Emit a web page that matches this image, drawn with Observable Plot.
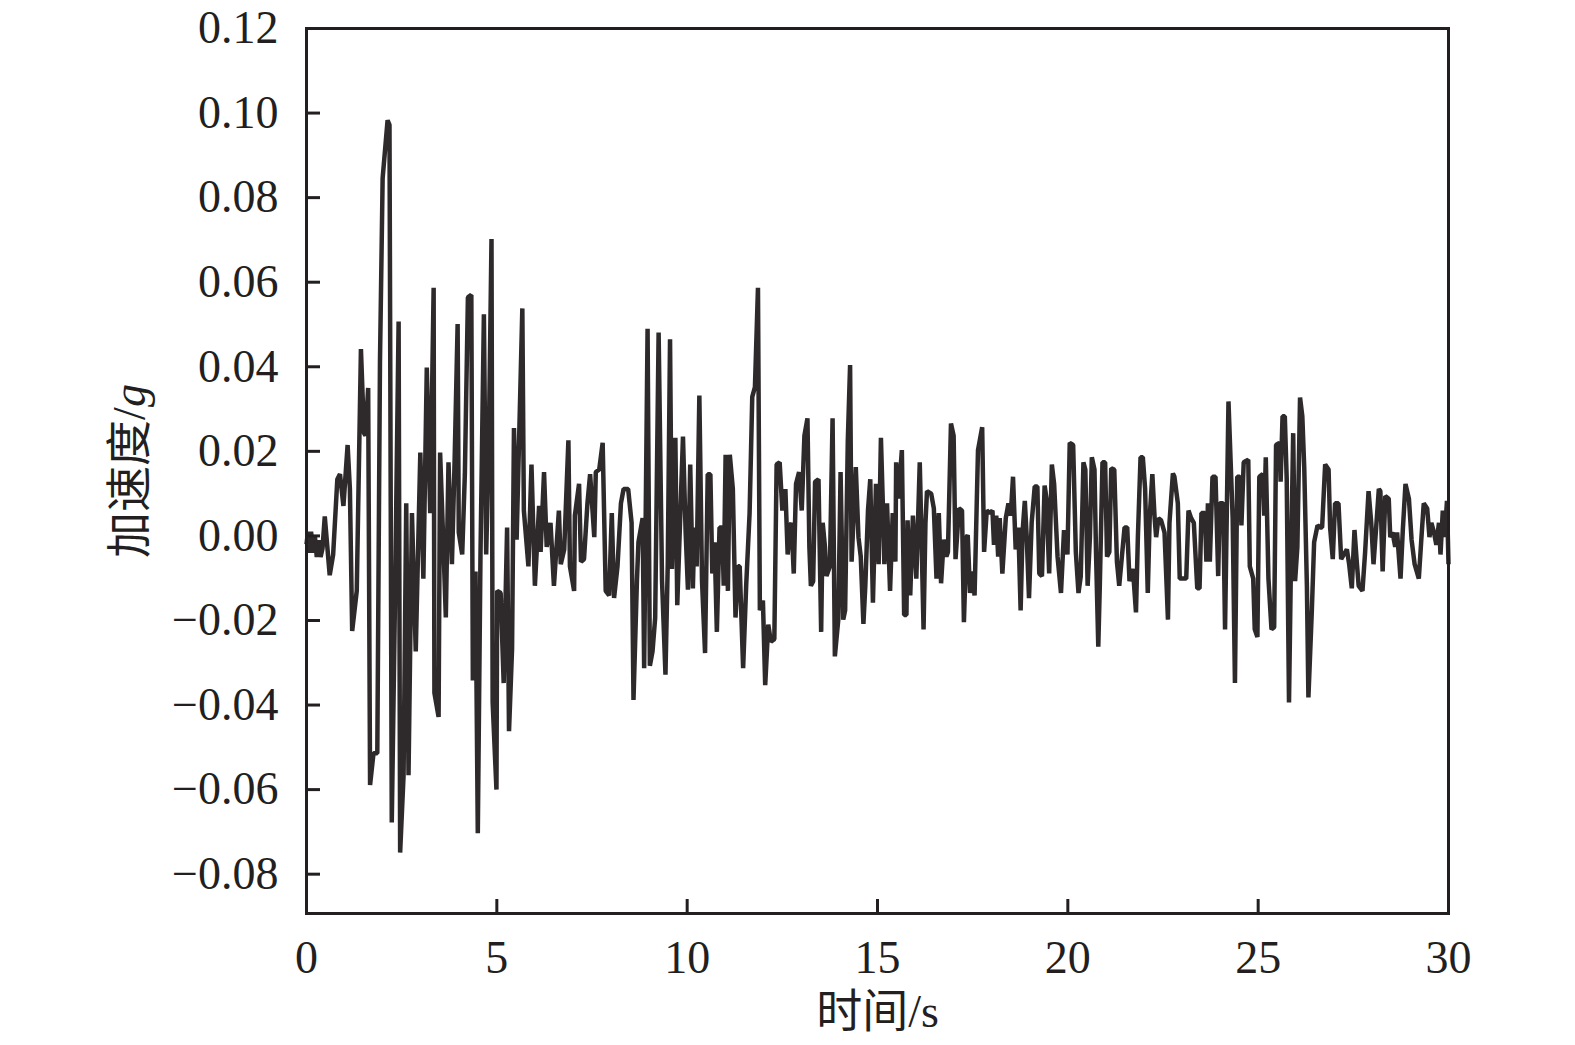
<!DOCTYPE html>
<html><head><meta charset="utf-8">
<script src="https://cdn.jsdelivr.net/npm/d3@7"></script>
<script src="https://cdn.jsdelivr.net/npm/@observablehq/plot@0.6"></script>
<style>
html,body{margin:0;padding:0;background:#fff;}
#chart svg{display:block;}
</style></head><body><div id="chart"></div>
<script>
// Time (s)
const time = [
  0, 0.04, 0.08, 0.12, 0.17, 0.22, 0.27, 0.32, 0.37, 0.42,
  0.48, 0.61, 0.70, 0.81, 0.88, 0.97, 1.08, 1.14, 1.20, 1.32,
  1.43, 1.51, 1.55, 1.62, 1.67, 1.76, 1.86, 1.93, 2.00, 2.13,
  2.18, 2.24, 2.33, 2.42, 2.46, 2.55, 2.62, 2.68, 2.77, 2.87, 2.99,
  3.07, 3.16, 3.25, 3.34, 3.36, 3.47, 3.51, 3.60, 3.66, 3.73,
  3.82, 3.89, 3.97, 4.00, 4.09, 4.16, 4.24, 4.33, 4.37, 4.44,
  4.50, 4.57, 4.66, 4.72, 4.79, 4.86, 4.89, 4.99, 5.01, 5.10,
  5.18, 5.27, 5.32, 5.40, 5.45, 5.52, 5.67, 5.71, 5.83, 5.91, 6.00,
  6.11, 6.15, 6.24, 6.31, 6.41, 6.50, 6.63, 6.68, 6.77, 6.88,
  6.92, 7.03, 7.05, 7.16, 7.21, 7.29, 7.38, 7.45, 7.56, 7.60,
  7.69, 7.78, 7.86, 7.95, 8.02, 8.08, 8.17, 8.26, 8.33, 8.45,
  8.54, 8.59, 8.68, 8.72, 8.83, 8.87, 8.96,
  9.02, 9.09, 9.16, 9.25, 9.34, 9.43, 9.49, 9.55, 9.60, 9.69,
  9.74, 9.80, 9.89, 9.96, 10.02, 10.08, 10.15, 10.19, 10.25, 10.32,
  10.39, 10.47, 10.54, 10.61, 10.66, 10.72, 10.78, 10.85, 10.92, 10.96,
  11.01, 11.07, 11.12, 11.20, 11.27, 11.34, 11.38, 11.47, 11.55, 11.64,
  11.71, 11.78, 11.86, 11.91, 11.99, 12.05,
  12.13, 12.20, 12.29, 12.35, 12.43, 12.50, 12.58, 12.64, 12.70, 12.74,
  12.80, 12.86, 12.94, 13.01, 13.08, 13.16, 13.21, 13.25, 13.31, 13.36,
  13.45, 13.52, 13.56, 13.62, 13.66, 13.75, 13.82, 13.88, 13.97, 14.03,
  14.10, 14.15, 14.22, 14.28, 14.32, 14.43, 14.50, 14.56, 14.63, 14.68,
  14.75, 14.81, 14.88, 14.96, 15.03, 15.09,
  15.14, 15.18, 15.25, 15.33, 15.40, 15.47, 15.49, 15.55, 15.64, 15.70,
  15.76, 15.79, 15.86, 15.93, 16.02, 16.11, 16.15, 16.21, 16.26, 16.30,
  16.41, 16.48, 16.55, 16.61, 16.67, 16.74, 16.81, 16.85, 16.93, 17.00,
  17.05, 17.14, 17.22, 17.27, 17.34, 17.37, 17.43, 17.49, 17.55, 17.64,
  17.75, 17.80, 17.87, 17.95,
  18.02, 18.06, 18.12, 18.17, 18.21, 18.28, 18.37, 18.44, 18.50, 18.56,
  18.63, 18.70, 18.76, 18.81, 18.87, 18.92, 18.98, 19.05, 19.13, 19.20,
  19.25, 19.32, 19.39, 19.44, 19.51, 19.58, 19.64, 19.73, 19.82, 19.90,
  19.99, 20.05, 20.14, 20.21, 20.28, 20.34, 20.41, 20.46, 20.52, 20.58,
  20.63, 20.70, 20.74, 20.80, 20.84, 20.91, 20.98, 21.03, 21.09, 21.14, 21.22,
  21.29, 21.35, 21.42, 21.49, 21.56, 21.62, 21.71, 21.79, 21.84, 21.91,
  21.97, 22.03, 22.10, 22.15, 22.22, 22.28, 22.32, 22.38, 22.45, 22.54,
  22.63, 22.67, 22.76, 22.80, 22.89, 22.94, 23.02, 23.11, 23.17, 23.24,
  23.31, 23.40, 23.46, 23.51, 23.60, 23.64, 23.68, 23.73, 23.80, 23.88,
  23.95, 23.99, 24.08, 24.13, 24.22,
  24.33, 24.39, 24.45, 24.52, 24.56, 24.62, 24.74, 24.78, 24.87, 24.91,
  24.98, 25.03, 25.12, 25.16, 25.20, 25.27, 25.35, 25.42, 25.47, 25.56,
  25.59, 25.64, 25.70, 25.75, 25.81, 25.86, 25.92, 25.97, 26.03, 26.10,
  26.16, 26.21, 26.28, 26.32, 26.41, 26.47, 26.56, 26.63, 26.68, 26.76,
  26.85, 26.89, 26.96, 27.02, 27.11, 27.18,
  27.33, 27.39, 27.46, 27.53, 27.59, 27.64, 27.74, 27.81, 27.90, 27.97,
  28.03, 28.10, 28.17, 28.21, 28.27, 28.34, 28.43, 28.47, 28.53, 28.60,
  28.65, 28.74, 28.80, 28.87, 28.96, 29.03, 29.11, 29.22, 29.29, 29.35,
  29.44, 29.50, 29.55, 29.62, 29.68, 29.75, 29.79, 29.85, 29.90, 29.96, 30.00
];
// Acceleration (g)
const accel = [
  -0.002, 0.001, -0.004, 0.001, -0.004, 0.000, -0.005, -0.001, -0.005, -0.003,
  0.0046, -0.0093, -0.0044, 0.0134, 0.0146, 0.0071, 0.0215, 0.0111, -0.0225, -0.0130,
  0.0442, 0.0243, 0.0237, 0.0350, -0.0589, -0.0514, -0.0514, 0.0410, 0.0846, 0.0983,
  0.0972, -0.0678, -0.0118, 0.0507, -0.0749, -0.0566, 0.0077, -0.0566, 0.0054, -0.0273, 0.0197,
  -0.0101, 0.0398, 0.0054, 0.0587, -0.0371, -0.0428, 0.0197, -0.0032, -0.0193, 0.0174,
  -0.0067, 0.0174, 0.0501, 0.0008, -0.0044, 0.0146, 0.0564, 0.0570, -0.0342, -0.0084,
  -0.0703, -0.0049, 0.0524, -0.0044, 0.0226, 0.0702, -0.0394, -0.0600, -0.0130, -0.0135,
  -0.0348, 0.0020, -0.0462, -0.0267, 0.0255, -0.0009, 0.0538, 0.0060, -0.0072, 0.0169, -0.0118,
  0.0071, -0.0038, 0.0151, -0.0026, 0.0031, -0.0118, 0.0060, -0.0067, -0.0032, 0.0226,
  -0.0072, -0.0130, 0.0048, 0.0123, -0.0061, -0.0055, 0.0077, 0.0146, -0.0003, 0.0151,
  0.0157, 0.0220, -0.0130, -0.0141, 0.0054, -0.0147, -0.0072, 0.0077, 0.0111, 0.0111,
  0.0031, -0.0388, -0.0107, -0.0015, 0.0042, -0.0313, 0.0490,
  -0.0307, -0.0273, -0.0193, 0.0481, -0.0107, -0.0328, -0.0067, 0.0465, -0.0078, 0.0232,
  -0.0164, -0.0003, 0.0235, 0.0008, -0.0127, 0.0169, -0.0124, 0.0020, -0.0072, 0.0332,
  -0.0107, -0.0277, 0.0146, 0.0146, -0.0089, -0.0015, -0.0227, 0.0020, 0.0020, -0.0118,
  0.0192, -0.0130, 0.0192, 0.0111, -0.0193, -0.0072, -0.0072, -0.0313, -0.0118, 0.0054,
  0.0329, 0.0352, 0.0587, -0.0176, -0.0153, -0.0353,
  -0.0210, -0.0250, -0.0244, 0.0169, 0.0174, 0.0060, 0.0111, -0.0044, 0.0020, 0.0031,
  -0.0089, 0.0123, 0.0151, 0.0060, 0.0237, 0.0278, -0.0026, -0.0118, -0.0107, 0.0128,
  0.0134, -0.0227, 0.0031, -0.0026, -0.0095, -0.0072, 0.0278, -0.0285, -0.0198, 0.0151,
  -0.0198, -0.0176, 0.0226, 0.0404, -0.0061, 0.0163, -0.0003, -0.0049, -0.0208, -0.0118,
  0.0060, 0.0134, -0.0158, 0.0123, -0.0067, 0.0232,
  0.0077, -0.0067, 0.0077, -0.0130, 0.0054, -0.0061, 0.0174, 0.0088, 0.0203, -0.0187,
  -0.0187, 0.0037, -0.0141, 0.0048, -0.0101, 0.0174, 0.0020, -0.0221, 0.0031, 0.0106,
  0.0100, 0.0065, -0.0101, 0.0054, -0.0112, -0.0009, -0.0049, -0.0038, 0.0266, 0.0237,
  -0.0055, 0.0065, 0.0060, -0.0204, -0.0003, 0.0002, -0.0135, -0.0084, -0.0141, 0.0203,
  0.0257, -0.0038, 0.0060, 0.0054,
  0.0060, -0.0021, 0.0048, -0.0049, 0.0042, -0.0089, 0.0042, 0.0077, 0.0048, 0.0140,
  -0.0032, 0.0020, -0.0176, 0.0008, 0.0083, -0.0003, -0.0147, 0.0031, 0.0117, 0.0117,
  -0.0089, -0.0095, 0.0119, 0.0088, -0.0089, 0.0169, 0.0123, -0.0049, -0.0135, 0.0014,
  -0.0044, 0.0220, 0.0215, -0.0038, -0.0135, -0.0095, 0.0174, 0.0157, -0.0118, -0.0003,
  0.0186, 0.0157, -0.0038, -0.0262, -0.0118, 0.0174, 0.0174, -0.0049, -0.0038, 0.0160, 0.0157,
  -0.0061, -0.0118, -0.0049, 0.0020, 0.0020, -0.0107, -0.0078, -0.0181, -0.0003, 0.0186,
  0.0186, 0.0111, -0.0135, 0.0042, 0.0146, 0.0042, -0.0003, 0.0042, 0.0037, 0.0008,
  -0.0198, 0.0031, 0.0148, 0.0140, 0.0077, -0.0101, -0.0101, -0.0101, 0.0060, 0.0042,
  0.0031, -0.0124, -0.0124, 0.0054, 0.0054, -0.0061, 0.0077, -0.0061, 0.0140, 0.0140,
  -0.0095, 0.0077, 0.0077, -0.0221, 0.0318,
  0.0042, -0.0348, 0.0140, 0.0140, 0.0025, 0.0174, 0.0180, -0.0072, -0.0101, -0.0221,
  -0.0239, 0.0140, 0.0146, 0.0048, 0.0186, -0.0101, -0.0221, -0.0216, 0.0215, 0.0220,
  0.0128, 0.0283, 0.0283, 0.0134, -0.0394, -0.0072, 0.0243, -0.0107, -0.0026, 0.0327,
  0.0283, 0.0163, -0.0118, -0.0382, -0.0176, -0.0015, 0.0025, 0.0020, 0.0020, 0.0169,
  0.0157, 0.0020, -0.0055, 0.0077, 0.0077, -0.0055,
  -0.0032, -0.0067, -0.0124, 0.0014, -0.0061, -0.0118, -0.0130, -0.0038, 0.0106, 0.0031,
  -0.0067, 0.0020, 0.0111, 0.0106, -0.0084, 0.0094, 0.0088, -0.0003, 0.0008, -0.0026,
  0.0008, -0.0101, 0.0014, 0.0123, 0.0088, -0.0009, -0.0067, -0.0101, -0.0003, 0.0077,
  0.0065, -0.0003, 0.0031, 0.0008, -0.0021, 0.0031, -0.0044, 0.0060, -0.0003, 0.0083, -0.0067
];
const xTicks = [0, 5, 10, 15, 20, 25, 30];
const yTicks = [0.12, 0.10, 0.08, 0.06, 0.04, 0.02, 0.00, -0.02, -0.04, -0.06, -0.08];
const xLabel = "时间/s";
const yLabel = "加速度/g";

const data = time.map((t, i) => ({t, a: accel[i]}));
const ink = "#231f20";
const fmtY = d3.format(".2f");

const chart = Plot.plot({
  width: 1575,
  height: 1045,
  marginLeft: 306,
  marginRight: 127,
  marginTop: 28,
  marginBottom: 132,
  style: {
    fontFamily: '"Liberation Serif", "Times New Roman", "Noto Sans CJK SC", serif',
    fontSize: "46px",
    color: ink,
    background: "#fff",
    overflow: "visible"
  },
  x: {domain: [0, 30]},
  y: {domain: [-0.0893, 0.12]},
  marks: [
    Plot.line(data, {x: "t", y: "a", stroke: "#2e2a2c", strokeWidth: 4.5, strokeLinejoin: "bevel", strokeLinecap: "butt"}),
    Plot.axisX({ticks: xTicks, tickSize: 14, dy: -14, tickPadding: 27, tickFormat: d => String(d), strokeWidth: 3, stroke: ink, fill: ink, label: null}),
    Plot.axisY({ticks: yTicks, tickSize: 14, dx: 14, tickPadding: 28, tickFormat: fmtY, strokeWidth: 3, stroke: ink, fill: ink, label: null}),
    Plot.frame({stroke: ink, strokeWidth: 3}),
    Plot.text([xLabel], {frameAnchor: "bottom", dy: 99, text: d => d, fill: ink, lineAnchor: "middle", textAnchor: "middle"}),
    Plot.text([yLabel], {frameAnchor: "left", dx: -176, rotate: -90, text: d => d, fill: ink, lineAnchor: "middle", textAnchor: "middle"})
  ]
});

d3.select(chart).selectAll("text").each(function() {
  const t = d3.select(this);
  if (t.text() === yLabel) {
    t.text(null);
    t.append("tspan").text("加速度/");
    t.append("tspan").attr("font-style", "italic").text("g");
  }
});

document.getElementById("chart").appendChild(chart);
</script>
</body></html>
